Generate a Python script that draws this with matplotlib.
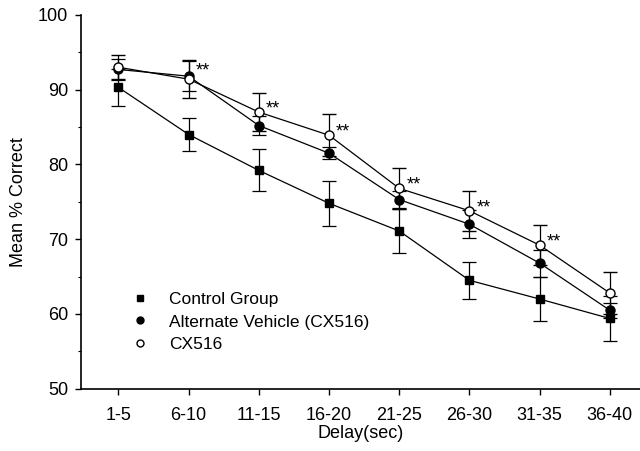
import matplotlib
matplotlib.use("Agg")
import matplotlib.pyplot as plt
from matplotlib.lines import Line2D

plt.rcParams['font.family'] = ['Liberation Sans', 'DejaVu Sans']

delays = ["1-5", "6-10", "11-15", "16-20", "21-25", "26-30", "31-35", "36-40"]
control = [90.3, 84.0, 79.2, 74.8, 71.1, 64.5, 62.0, 59.4]
control_err = [2.5, 2.2, 2.8, 3.0, 2.9, 2.5, 3.0, 3.0]
alt_vehicle = [92.7, 91.8, 85.2, 81.5, 75.3, 72.0, 66.8, 60.5]
alt_err = [1.4, 2.0, 1.3, 0.8, 1.1, 1.9, 1.8, 1.0]
cx516 = [93.0, 91.4, 87.0, 83.9, 76.8, 73.8, 69.2, 62.8]
cx516_err = [1.6, 2.5, 2.5, 2.8, 2.7, 2.7, 2.7, 2.8]
sig_marks = ["", "**", "**", "**", "**", "**", "**", ""]
sig_raise = [0, 3.6, 0, 0, 0, 0, 0, 0]

FS = 13

fig = plt.figure(figsize=(6.4, 4.51), dpi=100)
ax = fig.add_axes([0.127, 0.138, 0.873, 0.829])

x = list(range(len(delays)))
common = dict(color='black', lw=0.9, elinewidth=0.9, capsize=5.2, capthick=0.9)
ax.errorbar(x, control, yerr=control_err, fmt='-s', mfc='black', mec='black',
            markersize=5.4, zorder=3, **common)
ax.errorbar(x, alt_vehicle, yerr=alt_err, fmt='-o', mfc='black', mec='black',
            markersize=6.5, zorder=4, **common)
ax.errorbar(x, cx516, yerr=cx516_err, fmt='-o', mfc='white', mec='black', mew=1.0,
            markersize=6.5, zorder=5, **common)

for i, (yv, m) in enumerate(zip(cx516, sig_marks)):
    if m:
        ax.annotate(m, (i, yv), xytext=(5, -1 + sig_raise[i]), textcoords='offset points',
                    ha='left', va='baseline', fontsize=FS)

ax.set_xlim(-0.53, 7.43)
ax.set_ylim(50, 100)
ax.set_xticks(x)
ax.set_xticklabels(delays)
ax.set_yticks(range(50, 101, 10))
ax.set_yticks(range(55, 100, 10), minor=True)
ax.tick_params(axis='both', which='major', direction='out', length=4, width=1, labelsize=FS)
ax.tick_params(axis='y', which='major', pad=5.5)
ax.tick_params(axis='y', which='minor', direction='out', length=2.5, width=0.8)
ax.tick_params(axis='x', pad=9)
for s in ['top', 'right']:
    ax.spines[s].set_visible(False)
for s in ['left', 'bottom']:
    ax.spines[s].set_linewidth(1.2)

ax.set_xlabel("Delay(sec)", fontsize=FS, labelpad=1)
ax.set_ylabel("Mean % Correct", fontsize=FS, labelpad=8)

handles = [
    Line2D([], [], ls='none', marker='s', color='black', markersize=4.5),
    Line2D([], [], ls='none', marker='o', color='black', markersize=5),
    Line2D([], [], ls='none', marker='o', mfc='white', mec='black', markersize=5),
]
labels = ["Control Group", "Alternate Vehicle (CX516)", "CX516"]
ax.legend(handles, labels, loc='upper left', bbox_to_anchor=(0.091, 0.258), frameon=False,
          fontsize=12.5, handlelength=0.95, handletextpad=1.2, labelspacing=0.4,
          borderpad=0, borderaxespad=0)

fig.savefig("out.png", dpi=100)
